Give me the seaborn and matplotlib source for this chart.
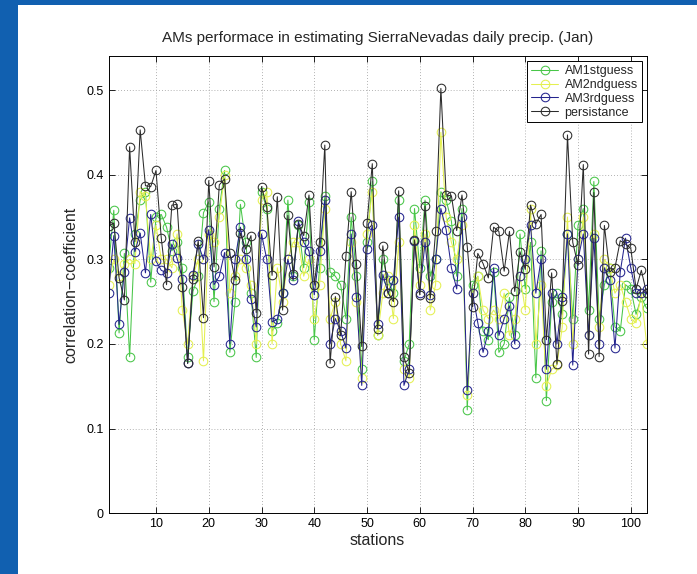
import numpy as np
import pandas as pd
import matplotlib
matplotlib.use("Agg")
import matplotlib.pyplot as plt
from matplotlib.patches import Rectangle
import seaborn as sns

stations = list(range(1, 104))

am1stguess = [
    0.290, 0.358, 0.213, 0.307, 0.185, 0.330, 0.370, 0.380, 0.273, 0.350,
    0.353, 0.338, 0.310, 0.320, 0.290, 0.184, 0.262, 0.280, 0.355, 0.368,
    0.250, 0.360, 0.405, 0.190, 0.250, 0.365, 0.320, 0.260, 0.184, 0.380,
    0.360, 0.215, 0.225, 0.260, 0.370, 0.280, 0.340, 0.290, 0.368, 0.205,
    0.290, 0.375, 0.285, 0.280, 0.270, 0.230, 0.350, 0.280, 0.170, 0.320,
    0.392, 0.210, 0.300, 0.275, 0.260, 0.370, 0.180, 0.200, 0.360, 0.290,
    0.370, 0.280, 0.300, 0.380, 0.370, 0.345, 0.280, 0.360, 0.122, 0.270,
    0.280, 0.215, 0.205, 0.285, 0.190, 0.200, 0.255, 0.210, 0.330, 0.265,
    0.320, 0.160, 0.310, 0.133, 0.250, 0.260, 0.235, 0.330, 0.230, 0.340,
    0.360, 0.240, 0.392, 0.230, 0.270, 0.290, 0.220, 0.215, 0.270, 0.265,
    0.235, 0.255, 0.242,
]

am2ndguess = [
    0.270, 0.300, 0.280, 0.295, 0.300, 0.295, 0.380, 0.375, 0.300, 0.340,
    0.300, 0.300, 0.290, 0.330, 0.240, 0.200, 0.280, 0.300, 0.180, 0.330,
    0.320, 0.350, 0.400, 0.260, 0.280, 0.300, 0.290, 0.270, 0.200, 0.370,
    0.380, 0.200, 0.290, 0.250, 0.300, 0.320, 0.320, 0.280, 0.300, 0.230,
    0.270, 0.360, 0.230, 0.250, 0.200, 0.180, 0.320, 0.250, 0.160, 0.330,
    0.380, 0.210, 0.260, 0.280, 0.230, 0.320, 0.170, 0.160, 0.340, 0.270,
    0.330, 0.240, 0.270, 0.450, 0.350, 0.320, 0.300, 0.340, 0.140, 0.260,
    0.280, 0.240, 0.230, 0.240, 0.230, 0.260, 0.210, 0.230, 0.280, 0.240,
    0.360, 0.200, 0.270, 0.150, 0.170, 0.175, 0.220, 0.350, 0.200, 0.300,
    0.350, 0.210, 0.330, 0.220, 0.300, 0.290, 0.260, 0.270, 0.250, 0.230,
    0.225, 0.260, 0.200,
]

am3rdguess = [
    0.260, 0.328, 0.223, 0.285, 0.349, 0.309, 0.331, 0.284, 0.353, 0.298,
    0.287, 0.284, 0.318, 0.301, 0.277, 0.177, 0.282, 0.318, 0.300, 0.335,
    0.270, 0.280, 0.308, 0.200, 0.300, 0.338, 0.300, 0.253, 0.220, 0.330,
    0.300, 0.226, 0.229, 0.260, 0.300, 0.275, 0.345, 0.320, 0.310, 0.258,
    0.310, 0.370, 0.200, 0.230, 0.215, 0.195, 0.330, 0.255, 0.151, 0.312,
    0.340, 0.223, 0.282, 0.260, 0.275, 0.350, 0.151, 0.170, 0.322, 0.260,
    0.320, 0.258, 0.300, 0.360, 0.335, 0.290, 0.265, 0.350, 0.145, 0.260,
    0.225, 0.190, 0.215, 0.290, 0.210, 0.230, 0.245, 0.200, 0.280, 0.300,
    0.340, 0.260, 0.300, 0.170, 0.260, 0.200, 0.255, 0.330, 0.175, 0.300,
    0.330, 0.210, 0.325, 0.200, 0.290, 0.275, 0.195, 0.285, 0.325, 0.290,
    0.260, 0.260, 0.265,
]

persistance = [
    0.339, 0.343, 0.278, 0.252, 0.433, 0.321, 0.453, 0.387, 0.386, 0.405,
    0.325, 0.270, 0.364, 0.365, 0.267, 0.177, 0.277, 0.322, 0.231, 0.393,
    0.291, 0.388, 0.395, 0.307, 0.276, 0.331, 0.312, 0.328, 0.237, 0.386,
    0.362, 0.281, 0.374, 0.240, 0.352, 0.283, 0.342, 0.328, 0.376, 0.270,
    0.321, 0.435, 0.177, 0.256, 0.210, 0.304, 0.380, 0.295, 0.197, 0.343,
    0.413, 0.218, 0.316, 0.260, 0.250, 0.381, 0.184, 0.166, 0.323, 0.258,
    0.363, 0.254, 0.333, 0.502, 0.376, 0.375, 0.334, 0.376, 0.315, 0.244,
    0.307, 0.295, 0.278, 0.338, 0.333, 0.286, 0.333, 0.262, 0.309, 0.288,
    0.364, 0.342, 0.353, 0.205, 0.284, 0.176, 0.251, 0.447, 0.320, 0.293,
    0.412, 0.188, 0.379, 0.185, 0.340, 0.285, 0.290, 0.322, 0.318, 0.313,
    0.265, 0.287, 0.260,
]

series_names = ["AM1stguess", "AM2ndguess", "AM3rdguess", "persistance"]
series_values = [am1stguess, am2ndguess, am3rdguess, persistance]
series_colors = ["#48c648", "#e4f050", "#24248e", "#2c2c2c"]

sns.set_theme(style="white")
plt.rcParams["font.family"] = ["Liberation Sans", "DejaVu Sans"]

fig = plt.figure(figsize=(6.97, 5.74), dpi=100)
fig.patch.set_facecolor("white")

# blue frame strips along the top and left edge
fig.add_artist(Rectangle((0, 0), 0.026, 1, transform=fig.transFigure,
                         facecolor="#1160b0", edgecolor="none", zorder=0))
fig.add_artist(Rectangle((0, 0.991), 1, 0.009, transform=fig.transFigure,
                         facecolor="#1160b0", edgecolor="none", zorder=0))

ax = fig.add_axes([0.1557, 0.106, 0.772, 0.796])

for name, vals, col in zip(series_names, series_values, series_colors):
    df = pd.DataFrame({"station": stations, "value": vals})
    sns.lineplot(data=df, x="station", y="value", ax=ax, color=col,
                 marker="o", markersize=6.2, markerfacecolor="none",
                 markeredgecolor=col, markeredgewidth=0.75, linewidth=0.75,
                 label=name)

ax.set_xlim(1, 103)
ax.set_ylim(0, 0.54)
ax.set_xticks(range(10, 101, 10))
ax.set_yticks([0, 0.1, 0.2, 0.3, 0.4, 0.5])
ax.set_yticklabels(["0", "0.1", "0.2", "0.3", "0.4", "0.5"])
ax.grid(True, color="#999999", linestyle=(0, (1, 2.5)), linewidth=0.6)
ax.tick_params(direction="in", length=4, width=0.6, labelsize=9,
               colors="black", top=True, right=True, bottom=True, left=True,
               labeltop=False, labelright=False)
for sp in ax.spines.values():
    sp.set_color("black")
    sp.set_linewidth(0.7)

ax.set_xlabel("stations", fontsize=11.5, labelpad=2)
ax.set_ylabel("correlation\u2212coefficient", fontsize=11.5, labelpad=6)
ax.set_title("AMs performace in estimating SierraNevadas daily precip. (Jan)",
             fontsize=11, pad=10)

leg = ax.legend(loc="upper right", fontsize=9, frameon=True, fancybox=False,
                borderaxespad=0.4, handlelength=2.2, labelspacing=0.15,
                borderpad=0.3, handletextpad=0.5)
leg.get_frame().set_edgecolor("black")
leg.get_frame().set_linewidth(0.7)
leg.get_frame().set_alpha(1)

fig.savefig("out.png", dpi=100, facecolor="white")
